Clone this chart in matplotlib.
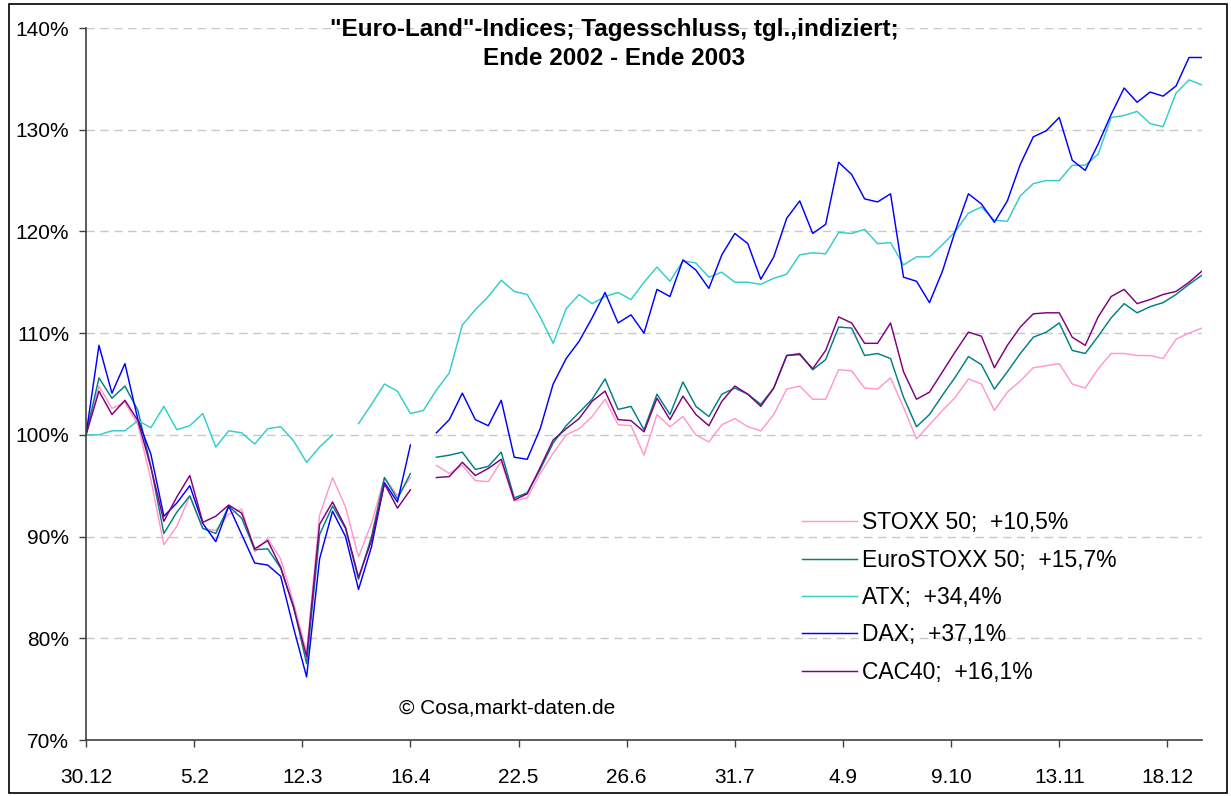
import numpy as np
import matplotlib
matplotlib.use('Agg')
import matplotlib.pyplot as plt
from matplotlib.patches import Rectangle

nan = np.nan

# every third trading day, 30.12.2002 = day 0
day = np.arange(0, 259, 3)

tick_days = [0, 25, 50, 75, 100, 125, 150, 175, 200, 225, 250]
tick_labels = ['30.12', '5.2', '12.3', '16.4', '22.5', '26.6', '31.7', '4.9', '9.10', '13.11', '18.12']

# index level in % (start = 100)
stoxx50 = [100.0, 104.8, 102.6, 103.2, 101.0, 95.6, 89.2, 91.0, 94.0, 90.8, 90.6, 92.2,
           92.7, 88.5, 89.8, 87.8, 83.5, 78.6, 92.1, 95.8, 92.9, 88.0, 91.3,
           95.8, 94.0, 95.8, nan, 97.0, 96.2, 97.0, 95.5, 95.4, 97.4, 93.5,
           93.8, 96.2, 98.2, 100.0, 100.6, 101.8, 103.5, 101.0, 100.9, 98.0,
           102.0, 100.8, 101.8, 100.0, 99.3, 101.0, 101.6, 100.8, 100.4, 102.0, 104.5,
           104.8, 103.5, 103.5, 106.4, 106.3, 104.6, 104.5, 105.6, 102.7, 99.6, 101.0,
           102.4, 103.7, 105.5, 105.0, 102.4, 104.2, 105.3, 106.6, 106.8, 107.0, 105.0,
           104.6, 106.5, 108.0, 108.0, 107.8, 107.8, 107.5, 109.4, 110.0, 110.5]

eurostoxx50 = [100.0, 105.6, 103.6, 104.8, 102.4, 96.9, 90.3, 92.4, 94.0, 90.8, 90.3, 93.0,
               91.8, 88.7, 88.8, 86.9, 83.1, 77.5, 90.2, 93.0, 90.8, 85.8, 90.0,
               95.8, 93.7, 96.2, nan, 97.8, 98.0, 98.3, 96.6, 96.9, 98.3, 93.8,
               94.3, 96.6, 99.2, 100.9, 102.2, 103.5, 105.5, 102.5, 102.8, 100.5,
               104.0, 102.0, 105.2, 102.8, 101.8, 104.0, 104.6, 104.0, 103.0, 104.6, 107.8,
               108.0, 106.4, 107.4, 110.6, 110.5, 107.8, 108.0, 107.5, 103.7, 100.8, 102.0,
               103.9, 105.7, 107.7, 106.9, 104.5, 106.2, 108.0, 109.6, 110.1, 111.0, 108.3,
               108.0, 109.7, 111.5, 112.9, 112.0, 112.6, 113.0, 113.8, 114.8, 115.7]

atx = [100.0, 100.0, 100.4, 100.4, 101.4, 100.7, 102.8, 100.5, 100.9, 102.1, 98.8, 100.4,
       100.2, 99.1, 100.6, 100.8, 99.4, 97.3, 98.8, 100.0, nan, 101.1, 103.0,
       105.0, 104.3, 102.1, 102.4, 104.4, 106.1, 110.8, 112.3, 113.6, 115.2, 114.1,
       113.8, 111.6, 109.0, 112.4, 113.8, 112.9, 113.6, 114.0, 113.3, 115.0,
       116.5, 115.1, 117.1, 116.9, 115.5, 116.0, 115.0, 115.0, 114.8, 115.4, 115.8,
       117.7, 117.9, 117.8, 119.9, 119.8, 120.2, 118.8, 118.9, 116.7, 117.5, 117.5,
       118.7, 120.0, 121.8, 122.4, 121.1, 121.0, 123.5, 124.7, 125.0, 125.0, 126.5,
       126.5, 127.6, 131.2, 131.4, 131.8, 130.6, 130.3, 133.6, 134.9, 134.4]

dax = [100.0, 108.8, 104.1, 107.0, 101.5, 98.1, 92.0, 93.3, 95.0, 91.3, 89.5, 93.0,
       90.2, 87.4, 87.2, 86.1, 81.0, 76.2, 87.8, 92.5, 90.0, 84.8, 89.0,
       95.3, 93.4, 99.0, nan, 100.2, 101.5, 104.1, 101.5, 100.9, 103.4, 97.8,
       97.6, 100.6, 105.0, 107.5, 109.2, 111.5, 114.0, 111.0, 111.8, 110.0,
       114.3, 113.6, 117.2, 116.2, 114.4, 117.7, 119.8, 118.8, 115.3, 117.5, 121.3,
       123.0, 119.8, 120.7, 126.8, 125.6, 123.2, 122.9, 123.7, 115.5, 115.1, 113.0,
       116.1, 120.1, 123.7, 122.7, 120.9, 123.0, 126.6, 129.3, 129.9, 131.2, 127.0,
       126.0, 128.6, 131.5, 134.1, 132.7, 133.7, 133.3, 134.3, 137.1, 137.1]

cac40 = [100.0, 104.3, 102.0, 103.4, 101.4, 96.8, 91.5, 93.9, 96.0, 91.4, 92.0, 93.1,
         92.3, 88.8, 89.6, 87.0, 83.0, 78.2, 91.2, 93.4, 90.9, 86.0, 89.6,
         95.2, 92.8, 94.6, nan, 95.8, 95.9, 97.3, 96.0, 96.7, 97.6, 93.6,
         94.2, 96.8, 99.5, 100.6, 101.6, 103.3, 104.3, 101.5, 101.4, 100.3,
         103.6, 101.5, 103.8, 102.0, 100.9, 103.3, 104.8, 104.0, 102.8, 104.6, 107.8,
         107.9, 106.5, 108.3, 111.6, 111.0, 109.0, 109.0, 111.0, 106.2, 103.5, 104.2,
         106.2, 108.2, 110.1, 109.7, 106.6, 108.8, 110.6, 111.9, 112.0, 112.0, 109.6,
         108.8, 111.6, 113.6, 114.3, 112.9, 113.3, 113.8, 114.1, 115.0, 116.1]

series = [
    (stoxx50, '#FF99CC', 'STOXX 50;  +10,5%'),
    (eurostoxx50, '#008080', 'EuroSTOXX 50;  +15,7%'),
    (atx, '#33CCCC', 'ATX;  +34,4%'),
    (dax, '#0000FF', 'DAX;  +37,1%'),
    (cac40, '#800080', 'CAC40;  +16,1%'),
]

plt.rcParams['font.family'] = ['Liberation Sans', 'DejaVu Sans']

W, H = 1231, 796
fig = plt.figure(figsize=(W / 100, H / 100), dpi=100)
ax = fig.add_axes([86 / W, 56 / H, 1116 / W, 712 / H])

for vals, col, lab in series:
    ax.plot(day, vals, color=col, lw=1.05, label=lab)

ax.set_xlim(0, 258)
ax.set_ylim(70, 140)
ax.set_yticks(range(70, 141, 10))
ax.set_yticklabels(['%d%%' % v for v in range(70, 141, 10)])
ax.set_xticks(tick_days)
ax.set_xticklabels(tick_labels)
ax.tick_params(axis='both', labelsize=15, length=5, width=1, color='#404040')
ax.tick_params(axis='y', pad=7)
ax.tick_params(axis='x', pad=15)

ax.yaxis.grid(True, color='#C8C8C8', lw=1.0, ls=(0, (6, 4)))
ax.set_axisbelow(True)
for s in ['top', 'right']:
    ax.spines[s].set_visible(False)
for s in ['left', 'bottom']:
    ax.spines[s].set_color('#404040')
    ax.spines[s].set_linewidth(1.2)

leg = ax.legend(loc='upper left', bbox_to_anchor=(0.6416, 0.321), frameon=False,
                fontsize=16.5, handlelength=2.4, handletextpad=0.22,
                labelspacing=0.625, borderaxespad=0, borderpad=0)

fig.text(614 / W, 1 - 44 / H, '"Euro-Land"-Indices; Tagesschluss, tgl.,indiziert;\nEnde 2002 - Ende 2003',
         ha='center', va='center', fontsize=17.5, fontweight='bold', linespacing=1.35)

fig.text(507 / W, 1 - 708 / H, '\u00a9 Cosa,markt-daten.de', ha='center', va='center', fontsize=15)

fig.patches.append(Rectangle((9 / W, 3 / H), 1218 / W, 789 / H, transform=fig.transFigure,
                             fill=False, ec='black', lw=1.2))

fig.savefig('out.png', dpi=100)
